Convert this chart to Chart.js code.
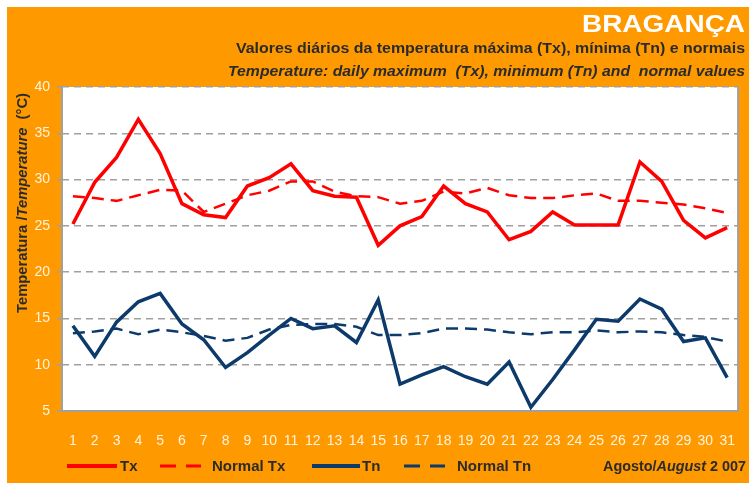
<!DOCTYPE html>
<html>
<head>
<meta charset="utf-8">
<script src="https://cdn.jsdelivr.net/npm/chart.js"></script>
<style>
  html, body { margin: 0; padding: 0; background: #fff; }
</style>
</head>
<body>
<canvas id="tempChart" width="749" height="485"></canvas>
<script>
// Bragança, Agosto 2007 - daily values
const days = ['1','2','3','4','5','6','7','8','9','10','11','12','13','14','15','16',
              '17','18','19','20','21','22','23','24','25','26','27','28','29','30','31'];

const tx = [25.2, 29.7, 32.4, 36.5, 32.8, 27.4, 26.2, 25.9, 29.3, 30.2, 31.7, 28.8, 28.2, 28.1, 22.9, 25.0,
            26.0, 29.3, 27.4, 26.5, 23.5, 24.4, 26.5, 25.1, 25.1, 25.1, 31.9, 29.8, 25.6, 23.7, 24.8];
const normalTx = [28.2, 28.0, 27.7, 28.3, 28.9, 28.8, 26.5, 27.4, 28.3, 28.8, 29.8, 29.8, 28.7, 28.2, 28.1, 27.4,
                  27.7, 28.7, 28.5, 29.1, 28.3, 28.0, 28.0, 28.3, 28.5, 27.7, 27.7, 27.5, 27.3, 26.9, 26.4];
const tn = [14.2, 10.9, 14.6, 16.8, 17.7, 14.4, 12.7, 9.7, 11.3, 13.2, 15.0, 13.9, 14.2, 12.4, 17.0, 7.9,
            8.9, 9.8, 8.7, 7.9, 10.3, 5.4, 8.4, 11.6, 14.9, 14.7, 17.1, 16.0, 12.5, 12.9, 8.6];
const normalTn = [13.4, 13.6, 13.9, 13.3, 13.8, 13.5, 13.1, 12.6, 12.9, 13.8, 14.3, 14.4, 14.4, 14.1, 13.2, 13.2,
                  13.4, 13.9, 13.9, 13.8, 13.5, 13.3, 13.5, 13.5, 13.7, 13.5, 13.6, 13.5, 13.2, 13.0, 12.5];

const yTicks = [5, 10, 15, 20, 25, 30, 35, 40];

const ORANGE = '#ff9900';
const RED = '#ff0000';
const NAVY = '#0b3a6b';
const DARK = '#2b2b2b';
const GRID = '#a0a0a0';
const NARROW = "'Liberation Sans Narrow', 'Arial Narrow', 'Liberation Sans', sans-serif";
const SANS = "'Liberation Sans', Arial, sans-serif";

// draw text squeezed/stretched to a given width, right aligned
function fitText(ctx, parts, right, y, width) {
  let total = 0;
  parts.forEach(p => { ctx.font = p.font; p.w = ctx.measureText(p.text).width; total += p.w; });
  const k = width / total;
  ctx.save();
  ctx.translate(right - width, y);
  ctx.scale(k, 1);
  let x = 0;
  parts.forEach(p => { ctx.font = p.font; ctx.fillText(p.text, x, 0); x += p.w; });
  ctx.restore();
}

const decor = {
  id: 'decor',
  beforeDraw(chart) {
    const { ctx, chartArea: a } = chart;
    ctx.save();
    ctx.fillStyle = '#fff';
    ctx.fillRect(0, 0, chart.width, chart.height);
    ctx.fillStyle = ORANGE;
    ctx.fillRect(7, 7, chart.width - 7, chart.height - 9);
    ctx.fillStyle = '#fff';
    ctx.fillRect(a.left, a.top, a.right - a.left, a.bottom - a.top);
    ctx.restore();
  },
  afterDraw(chart) {
    const { ctx, chartArea: a } = chart;
    ctx.save();

    // solid left and right borders of the plot
    ctx.strokeStyle = GRID;
    ctx.lineWidth = 2;
    ctx.beginPath();
    ctx.moveTo(a.left, a.top);
    ctx.lineTo(a.left, a.bottom);
    ctx.moveTo(a.right, a.top);
    ctx.lineTo(a.right, a.bottom);
    ctx.stroke();

    // titles
    ctx.textBaseline = 'alphabetic';
    ctx.fillStyle = '#fff';
    fitText(ctx, [{ text: 'BRAGANÇA', font: 'bold 23px ' + SANS }], 745, 32, 163);
    ctx.fillStyle = DARK;
    fitText(ctx, [{ text: 'Valores diários da temperatura máxima (Tx), mínima (Tn) e normais', font: 'bold 14px ' + SANS }],
            745, 53, 509);
    fitText(ctx, [{ text: 'Temperature: daily maximum  (Tx), minimum (Tn) and  normal values', font: 'italic bold 14px ' + SANS }],
            745, 76, 517);

    // y axis title
    ctx.save();
    ctx.translate(27, 313);
    ctx.rotate(-Math.PI / 2);
    fitText(ctx, [
      { text: 'Temperatura /', font: 'bold 15px ' + SANS },
      { text: 'Temperature', font: 'italic bold 15px ' + SANS },
      { text: '  (°C)', font: 'bold 15px ' + SANS }
    ], 220, 0, 220);
    ctx.restore();

    // legend
    const legendX = [[67, 117, 120], [160, 201, 212], [312, 360, 362], [404, 445, 457]];
    const ly = 466;
    chart.data.datasets.forEach((ds, i) => {
      const [x0, x1, tx0] = legendX[i];
      ctx.strokeStyle = ds.borderColor;
      ctx.lineWidth = ds.borderDash ? 3 : 4;
      ctx.setLineDash(ds.borderDash ? [16, 10] : []);
      ctx.beginPath();
      ctx.moveTo(x0, ly);
      ctx.lineTo(x1, ly);
      ctx.stroke();
      ctx.setLineDash([]);
      ctx.fillStyle = DARK;
      ctx.font = 'bold 15px ' + SANS;
      ctx.textBaseline = 'middle';
      ctx.fillText(ds.label, tx0, ly + 1);
    });

    ctx.textBaseline = 'middle';
    fitText(ctx, [
      { text: 'Agosto/', font: 'bold 15px ' + SANS },
      { text: 'August', font: 'italic bold 15px ' + SANS },
      { text: ' 2 007', font: 'bold 15px ' + SANS }
    ], 746, 467, 143);

    ctx.restore();
  }
};

new Chart(document.getElementById('tempChart'), {
  type: 'line',
  data: {
    labels: days,
    datasets: [
      { label: 'Tx', data: tx, borderColor: RED, borderWidth: 3.5 },
      { label: 'Normal Tx', data: normalTx, borderColor: RED, borderWidth: 2.5, borderDash: [12, 7] },
      { label: 'Tn', data: tn, borderColor: NAVY, borderWidth: 3.5 },
      { label: 'Normal Tn', data: normalTn, borderColor: NAVY, borderWidth: 2.5, borderDash: [12, 7] }
    ]
  },
  options: {
    responsive: false,
    animation: false,
    layout: { padding: { left: 0, right: 3, top: 87, bottom: 0 } },
    elements: { point: { radius: 0 }, line: { tension: 0 } },
    plugins: {
      legend: { display: false },
      tooltip: { enabled: false }
    },
    scales: {
      x: {
        offset: true,
        grid: { display: false },
        border: { color: GRID, width: 2, dash: [7, 5] },
        ticks: { color: '#fff3dc', font: { family: NARROW, size: 14 }, padding: 14, maxRotation: 0, autoSkip: false },
        afterFit(scale) { scale.height = 74; }
      },
      y: {
        min: 5,
        max: 40,
        afterBuildTicks(scale) { scale.ticks = yTicks.map(v => ({ value: v })); },
        grid: { color: GRID, lineWidth: 1.5, tickLength: 5, tickBorderDash: [], tickColor: GRID },
        border: { display: false, dash: [7, 5] },
        ticks: { color: '#fff3dc', font: { family: NARROW, size: 14 }, padding: 7 },
        afterFit(scale) { scale.width = 62; }
      }
    }
  },
  plugins: [decor]
});
</script>
</body>
</html>
